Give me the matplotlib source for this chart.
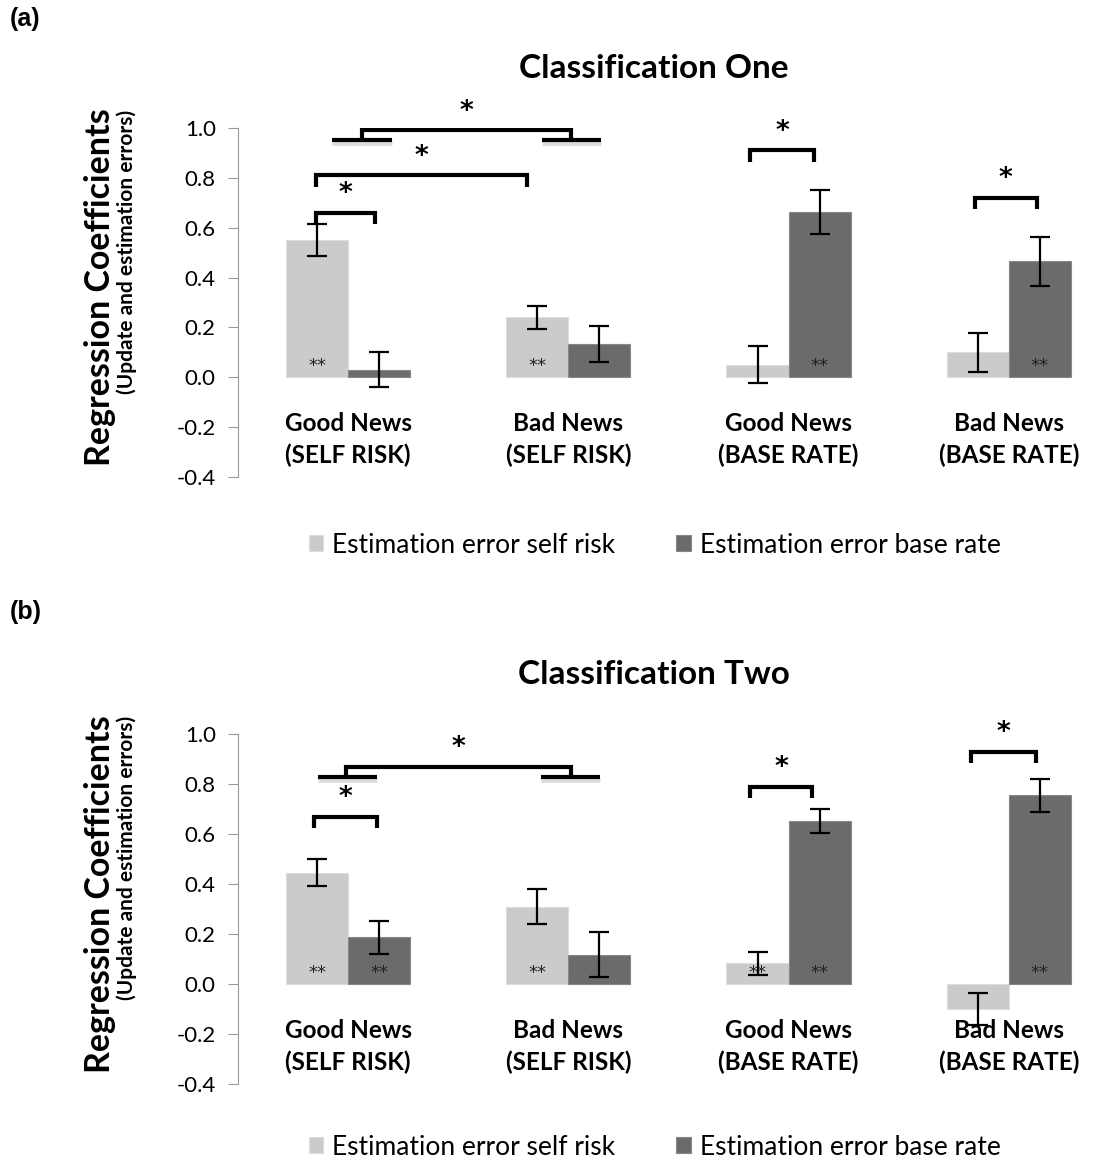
import numpy as np
import matplotlib
matplotlib.use("Agg")
import matplotlib.pyplot as plt

plt.rcParams['font.family'] = ['Lato', 'DejaVu Sans']

groups = ["Good News\n(SELF RISK)", "Bad News\n(SELF RISK)",
          "Good News\n(BASE RATE)", "Bad News\n(BASE RATE)"]
series_names = ["Estimation error self risk", "Estimation error base rate"]

# classification one
one_self = [0.55, 0.24, 0.05, 0.10]
one_self_err = [0.063, 0.045, 0.075, 0.078]
one_base = [0.03, 0.135, 0.663, 0.466]
one_base_err = [0.07, 0.072, 0.09, 0.098]
one_stars_self = [True, True, False, False]
one_stars_base = [False, False, True, True]

# classification two
two_self = [0.446, 0.31, 0.083, -0.10]
two_self_err = [0.053, 0.07, 0.045, 0.065]
two_base = [0.187, 0.117, 0.653, 0.755]
two_base_err = [0.066, 0.09, 0.048, 0.065]
two_stars_self = [True, True, True, False]
two_stars_base = [True, False, True, True]

light = "#cbcbcb"
dark = "#6b6b6b"
bw = 0.282


def star(ax, x, y):
    ax.text(x, y, "*", ha="center", va="center", fontsize=19,
            fontweight="bold", family="DejaVu Sans", zorder=5)


def bracket(ax, x0, x1, y, star_y, depth=0.045):
    ax.plot([x0, x0, x1, x1], [y - depth, y, y, y - depth], color="black",
            lw=3.0, solid_joinstyle="miter", solid_capstyle="butt", zorder=5)
    star(ax, (x0 + x1) / 2, star_y)


def split_bracket(ax, left, right, x0, x1, y_seg, y_top, star_y):
    # two short ledges joined by a raised bracket
    for a, b in (left, right):
        ax.plot([a, b], [y_seg - 0.012, y_seg - 0.012], color="#bbbbbb",
                lw=3.5, alpha=0.5, solid_capstyle="butt", zorder=4)
        ax.plot([a, b], [y_seg, y_seg], color="black", lw=3.0,
                solid_capstyle="butt", zorder=5)
    ax.plot([x0, x0, x1, x1], [y_seg, y_top, y_top, y_seg], color="black",
            lw=3.0, solid_joinstyle="miter", solid_capstyle="butt", zorder=5)
    star(ax, (x0 + x1) / 2, star_y)


def panel(ax, title, s_vals, s_err, b_vals, b_err, s_star, b_star, leg_y):
    x = np.arange(len(groups))
    ek = dict(ecolor="black", elinewidth=1.6, capsize=7, capthick=1.6)
    ax.bar(x - bw / 2, s_vals, bw, yerr=s_err, color=light,
           edgecolor="#dddddd", linewidth=0.8, error_kw=ek, label=series_names[0])
    ax.bar(x + bw / 2, b_vals, bw, yerr=b_err, color=dark,
           edgecolor="#888888", linewidth=0.8, error_kw=ek, label=series_names[1])
    for i in range(len(groups)):
        if s_star[i]:
            ax.text(x[i] - bw / 2, 0.008, "**", ha="center", va="bottom",
                    fontsize=13, color="#222222", family="DejaVu Sans", zorder=6)
        if b_star[i]:
            ax.text(x[i] + bw / 2, 0.008, "**", ha="center", va="bottom",
                    fontsize=13, color="#222222", family="DejaVu Sans", zorder=6)
        ax.text(x[i], -0.25, groups[i], ha="center", va="center",
                fontsize=17.5, fontweight="bold", linespacing=1.4)
    ax.set_xlim(-0.5, 3.37)
    ax.set_ylim(-0.4, 1.0)
    ticks = np.arange(-0.4, 1.01, 0.2)
    ax.set_yticks(ticks)
    ax.set_yticklabels([f"{v:.1f}" for v in ticks], fontsize=16)
    ax.set_xticks([])
    for s in ("top", "right", "bottom"):
        ax.spines[s].set_visible(False)
    ax.spines["left"].set_color("#999999")
    ax.tick_params(axis="y", direction="out", length=7, color="#999999", pad=9)
    ax.set_title(title, fontsize=24, fontweight="bold", pad=36, x=0.488)
    ax.text(-0.162, 0.544, "Regression Coefficients", transform=ax.transAxes,
            rotation=90, ha="center", va="center", fontsize=24.5, fontweight="bold")
    ax.text(-0.131, 0.645, "(Update and estimation errors)", transform=ax.transAxes,
            rotation=90, ha="center", va="center", fontsize=15, fontweight="bold")
    ax.legend(loc="center", bbox_to_anchor=(0.489, leg_y), ncol=2,
              frameon=False, fontsize=19, handlelength=0.55, handleheight=0.55,
              handletextpad=0.35, columnspacing=2.3)


fig = plt.figure(figsize=(10.94, 11.6), dpi=100)
ax1 = fig.add_axes([0.2176, 0.5888, 0.779, 0.3009])
ax2 = fig.add_axes([0.2176, 0.0655, 0.779, 0.3017])

panel(ax1, "Classification One", one_self, one_self_err, one_base, one_base_err,
      one_stars_self, one_stars_base, -0.195)
panel(ax2, "Classification Two", two_self, two_self_err, two_base, two_base_err,
      two_stars_self, two_stars_base, -0.18)

# significance markers, classification one
bracket(ax1, -0.145, 0.123, 0.66, 0.735)
bracket(ax1, -0.145, 0.814, 0.81, 0.885)
split_bracket(ax1, (-0.073, 0.2), (0.882, 1.15), 0.064, 1.014, 0.95, 0.99, 1.065)
bracket(ax1, 1.827, 2.114, 0.91, 0.985)
bracket(ax1, 2.845, 3.127, 0.72, 0.795)

# significance markers, classification two
bracket(ax2, -0.155, 0.132, 0.67, 0.745)
split_bracket(ax2, (-0.136, 0.132), (0.877, 1.145), -0.009, 1.014, 0.83, 0.87, 0.945)
bracket(ax2, 1.827, 2.105, 0.79, 0.865)
bracket(ax2, 2.827, 3.123, 0.93, 1.005)

fig.text(0.009, 0.984, "(a)", fontsize=18, fontweight="bold",
         family="Liberation Sans", va="center")
fig.text(0.009, 0.472, "(b)", fontsize=18, fontweight="bold",
         family="Liberation Sans", va="center")

fig.savefig("out.png", dpi=100)
